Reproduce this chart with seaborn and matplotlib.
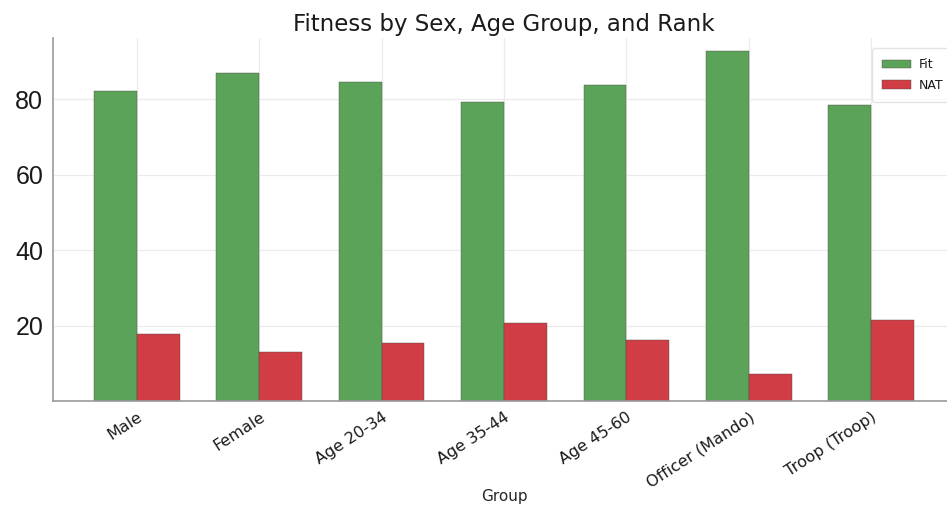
import numpy as np
import pandas as pd
import matplotlib
matplotlib.use("Agg")
import matplotlib.pyplot as plt
import seaborn as sns

# Share of personnel by group (percent)
groups = ["Male", "Female", "Age 20-34", "Age 35-44", "Age 45-60",
          "Officer (Mando)", "Troop (Troop)"]
fit = [82.2, 87.0, 84.5, 79.3, 83.8, 92.8, 78.5]
nat = [17.8, 13.0, 15.5, 20.7, 16.2, 7.2, 21.5]

df = pd.DataFrame({
    "Group": groups * 2,
    "Percent": fit + nat,
    "Status": ["Fit"] * len(groups) + ["NAT"] * len(groups),
})

sns.set_style("whitegrid", {"grid.color": "#ebebeb", "axes.edgecolor": "#9a9a9a",
                            "text.color": "#1a1a1a", "xtick.color": "#1a1a1a",
                            "ytick.color": "#1a1a1a"})

fig = plt.figure(figsize=(9.47, 5.08), dpi=100)
ax = fig.add_axes([0.056, 0.2106, 0.9525, 0.7146])

sns.barplot(data=df, x="Group", y="Percent", hue="Status",
            palette={"Fit": "#5ca35a", "NAT": "#d13d44"},
            width=0.7, saturation=1, edgecolor="#4a4a4a", linewidth=0.3, ax=ax)

ax.set_xlim(-0.685, 6.685)
ax.set_ylim(0, 96.2)
ax.set_yticks([0, 20, 40, 60, 80])
ax.set_yticklabels(["", "20", "40", "60", "80"], fontsize=18, family="Liberation Sans")
ax.set_xticks(range(len(groups)))
ax.set_xticklabels(groups, rotation=33, ha="right", rotation_mode="anchor", fontsize=11.5)
ax.grid(True, axis="both", color="#ebebeb", linewidth=0.9)
ax.set_axisbelow(True)
ax.tick_params(axis="both", length=3, color="#555555", width=0.8)
ax.tick_params(axis="y", pad=4)
ax.tick_params(axis="x", pad=3)

ax.set_ylabel("")
ax.set_xlabel("Group", fontsize=11)
ax.xaxis.set_label_coords(0.5, -0.243)
ax.set_title("Fitness by Sex, Age Group, and Rank", fontsize=16.5, pad=5)

sns.despine(ax=ax)
for s in ["left", "bottom"]:
    ax.spines[s].set_linewidth(1.2)

# legend sits at the right edge of the axes
leg = ax.legend(loc="upper left", bbox_to_anchor=(866 / 947, 1 - 42 / 508),
                bbox_transform=fig.transFigure, fontsize=9, frameon=True,
                handlelength=2.3, handletextpad=0.6, borderpad=0.8, labelspacing=0.6)
leg.get_frame().set_edgecolor("#dddddd")

fig.savefig("out.png", dpi=100)
